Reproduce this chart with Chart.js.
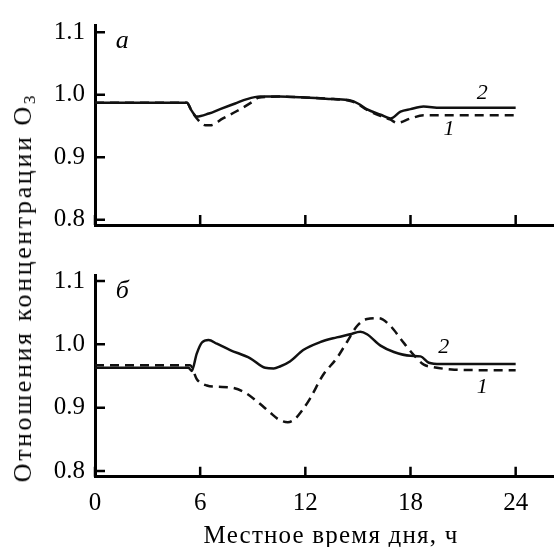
<!DOCTYPE html>
<html>
<head>
<meta charset="utf-8">
<script src="https://cdn.jsdelivr.net/npm/chart.js@4.4.1/dist/chart.umd.min.js"></script>
<style>
  html, body { margin: 0; padding: 0; background: #fff; }
  #wrap { position: relative; width: 554px; height: 547px; overflow: hidden; }
  #wrap canvas { position: absolute; left: 0; }
  #top-chart { top: 0; }
  #bottom-chart { top: 250px; }
  #y-title {
    position: absolute; left: 23px; top: 289px;
    transform: translate(-50%, -50%) rotate(-90deg);
    white-space: nowrap;
    font: 26px "Liberation Serif", serif; color: #000;
    letter-spacing: 2.6px;
  }
  #y-title sub { font-size: 17px; vertical-align: -4px; line-height: 0; letter-spacing: 0; }
</style>
</head>
<body>
<div id="wrap">
  <canvas id="top-chart" width="554" height="250"></canvas>
  <canvas id="bottom-chart" width="554" height="297"></canvas>
  <div id="y-title">Отношения концентрации O<sub>3</sub></div>
</div>
<script>
// ─── Data ───────────────────────────────────────────────────────────────────
// Panel "а"
const hoursA2 = [0, 5.24, 5.5, 5.81, 6.5, 7.14, 8.0, 8.67, 9.43, 10.5, 11.71, 13.6, 14.57, 15.0, 15.5, 16.3, 16.86, 17.43, 18.0, 18.74, 19.7, 24];
const ratioA2 = [0.987, 0.987, 0.975, 0.965, 0.970, 0.977, 0.986, 0.993, 0.997, 0.997, 0.996, 0.993, 0.991, 0.986, 0.977, 0.968, 0.962, 0.973, 0.977, 0.981, 0.979, 0.979];
const hoursA1 = [0, 5.24, 5.5, 5.81, 6.3, 6.57, 7.3, 8.1, 9.0, 9.3, 10.5, 11.71, 13.6, 14.57, 15.0, 15.5, 16.3, 16.86, 17.24, 18.0, 18.74, 24];
const ratioA1 = [0.987, 0.987, 0.975, 0.962, 0.951, 0.951, 0.962, 0.974, 0.989, 0.995, 0.997, 0.996, 0.993, 0.990, 0.985, 0.976, 0.966, 0.960, 0.955, 0.962, 0.967, 0.967];

// Panel "б"
const hoursB2 = [0, 5.33, 5.52, 5.8, 6.1, 6.48, 6.95, 7.71, 8.86, 9.71, 10.2, 10.55, 11.12, 11.88, 12.84, 13.79, 14.55, 15.14, 15.52, 16.29, 17.05, 18.0, 18.57, 19.05, 19.71, 24];
const ratioB2 = [0.963, 0.963, 0.958, 0.985, 1.003, 1.007, 1.001, 0.991, 0.978, 0.963, 0.962, 0.965, 0.973, 0.991, 1.0035, 1.011, 1.016, 1.020, 1.016, 0.998, 0.988, 0.982, 0.981, 0.971, 0.969, 0.969];
const hoursB1 = [0, 5.43, 5.81, 6.38, 7.0, 7.71, 8.48, 9.24, 10.0, 10.5, 11.0, 11.4, 11.8, 12.26, 13.02, 13.79, 14.36, 14.95, 15.52, 16.19, 16.86, 17.43, 18.19, 18.76, 19.33, 20.5, 24];
const ratioB1 = [0.967, 0.967, 0.945, 0.935, 0.933, 0.932, 0.925, 0.910, 0.892, 0.881, 0.877, 0.882, 0.895, 0.914, 0.952, 0.978, 1.003, 1.029, 1.040, 1.0415, 1.029, 1.009, 0.983, 0.968, 0.964, 0.960, 0.959];

// Axis ticks and text
const hourTicks = [0, 6, 12, 18, 24];
const ratioTicks = [0.8, 0.9, 1.0, 1.1];
const xTitle = 'Местное время дня, ч';

// ─── Helpers ────────────────────────────────────────────────────────────────
const SERIF = '"Liberation Serif", "Times New Roman", serif';

function toPoints(xs, ys) {
  return xs.map((x, i) => ({ x, y: ys[i] }));
}

// Draws the inward-pointing tick marks, the italic labels of a panel and
// (bottom panel only) the spaced-out x axis title.
const panelDecor = {
  id: 'panelDecor',
  afterDraw(chart, args, opts) {
    const { ctx, chartArea, scales } = chart;
    const xs = scales.x, ys = scales.y;
    ctx.save();
    ctx.strokeStyle = '#000';
    ctx.lineWidth = 2.5;
    ctx.beginPath();
    hourTicks.forEach((h) => {
      const px = xs.getPixelForValue(h);
      ctx.moveTo(px, chartArea.bottom);
      ctx.lineTo(px, chartArea.bottom - 10);
    });
    ratioTicks.forEach((v) => {
      const py = ys.getPixelForValue(v);
      ctx.moveTo(chartArea.left, py);
      ctx.lineTo(chartArea.left + 10, py);
    });
    ctx.stroke();

    ctx.fillStyle = '#000';
    ctx.textAlign = 'center';
    ctx.textBaseline = 'middle';
    (opts.labels || []).forEach((lb) => {
      ctx.font = `italic ${lb.size}px ${SERIF}`;
      ctx.fillText(lb.text, xs.getPixelForValue(lb.x), ys.getPixelForValue(lb.y));
    });

    if (opts.xTitle) {
      ctx.font = `25px ${SERIF}`;
      if ('letterSpacing' in ctx) ctx.letterSpacing = '1.2px';
      ctx.textBaseline = 'alphabetic';
      ctx.fillText(opts.xTitle, (xs.left + xs.right) / 2 + 7, xs.bottom - 4);
    }
    ctx.restore();
  },
};

function buildConfig(panel) {
  const isBottom = panel.bottom;
  return {
    type: 'line',
    data: {
      datasets: [
        {
          label: '1',
          data: toPoints(panel.hours1, panel.ratio1),
          borderColor: '#111',
          borderWidth: 2.5,
          borderDash: [9, 6],
          pointRadius: 0,
          cubicInterpolationMode: 'monotone',
        },
        {
          label: '2',
          data: toPoints(panel.hours2, panel.ratio2),
          borderColor: '#111',
          borderWidth: 2.5,
          pointRadius: 0,
          cubicInterpolationMode: 'monotone',
        },
      ],
    },
    options: {
      responsive: false,
      animation: false,
      events: [],
      layout: { padding: { top: panel.padTop, right: 1, left: 0, bottom: 0 } },
      plugins: {
        legend: { display: false },
        tooltip: { enabled: false },
        panelDecor: { labels: panel.labels, xTitle: isBottom ? xTitle : null },
      },
      scales: {
        x: {
          type: 'linear',
          min: 0,
          max: 26.13,
          afterBuildTicks: (s) => { s.ticks = hourTicks.map((v) => ({ value: v })); },
          afterFit: (s) => { s.height = panel.xAxisHeight; },
          grid: { display: false, drawTicks: false },
          border: { display: true, color: '#000', width: 3 },
          ticks: {
            display: isBottom,
            padding: 12,
            color: '#000',
            font: { family: SERIF, size: 25 },
            maxRotation: 0,
          },
        },
        y: {
          type: 'linear',
          min: panel.yMin,
          max: panel.yMax,
          afterBuildTicks: (s) => { s.ticks = ratioTicks.map((v) => ({ value: v })); },
          afterFit: (s) => { s.width = 95; },
          grid: { display: false, drawTicks: false },
          border: { display: true, color: '#000', width: 3 },
          ticks: {
            padding: 10,
            color: '#000',
            font: { family: SERIF, size: 25 },
            callback: (v) => Number(v).toFixed(1),
          },
        },
      },
    },
    plugins: [panelDecor],
  };
}

new Chart(document.getElementById('top-chart'), buildConfig({
  bottom: false,
  hours1: hoursA1, ratio1: ratioA1,
  hours2: hoursA2, ratio2: ratioA2,
  yMin: 0.7914, yMax: 1.1117,
  padTop: 15,
  xAxisHeight: 24.3,
  labels: [
    { text: 'а', x: 1.55, y: 1.086, size: 26 },
    { text: '2', x: 22.1, y: 1.003, size: 22 },
    { text: '1', x: 20.2, y: 0.945, size: 22 },
  ],
}));

new Chart(document.getElementById('bottom-chart'), buildConfig({
  bottom: true,
  hours1: hoursB1, ratio1: ratioB1,
  hours2: hoursB2, ratio2: ratioB2,
  yMin: 0.7909, yMax: 1.1096,
  padTop: 17,
  xAxisHeight: 70.3,
  labels: [
    { text: 'б', x: 1.55, y: 1.084, size: 26 },
    { text: '2', x: 19.9, y: 0.996, size: 22 },
    { text: '1', x: 22.1, y: 0.933, size: 22 },
  ],
}));
</script>
</body>
</html>
